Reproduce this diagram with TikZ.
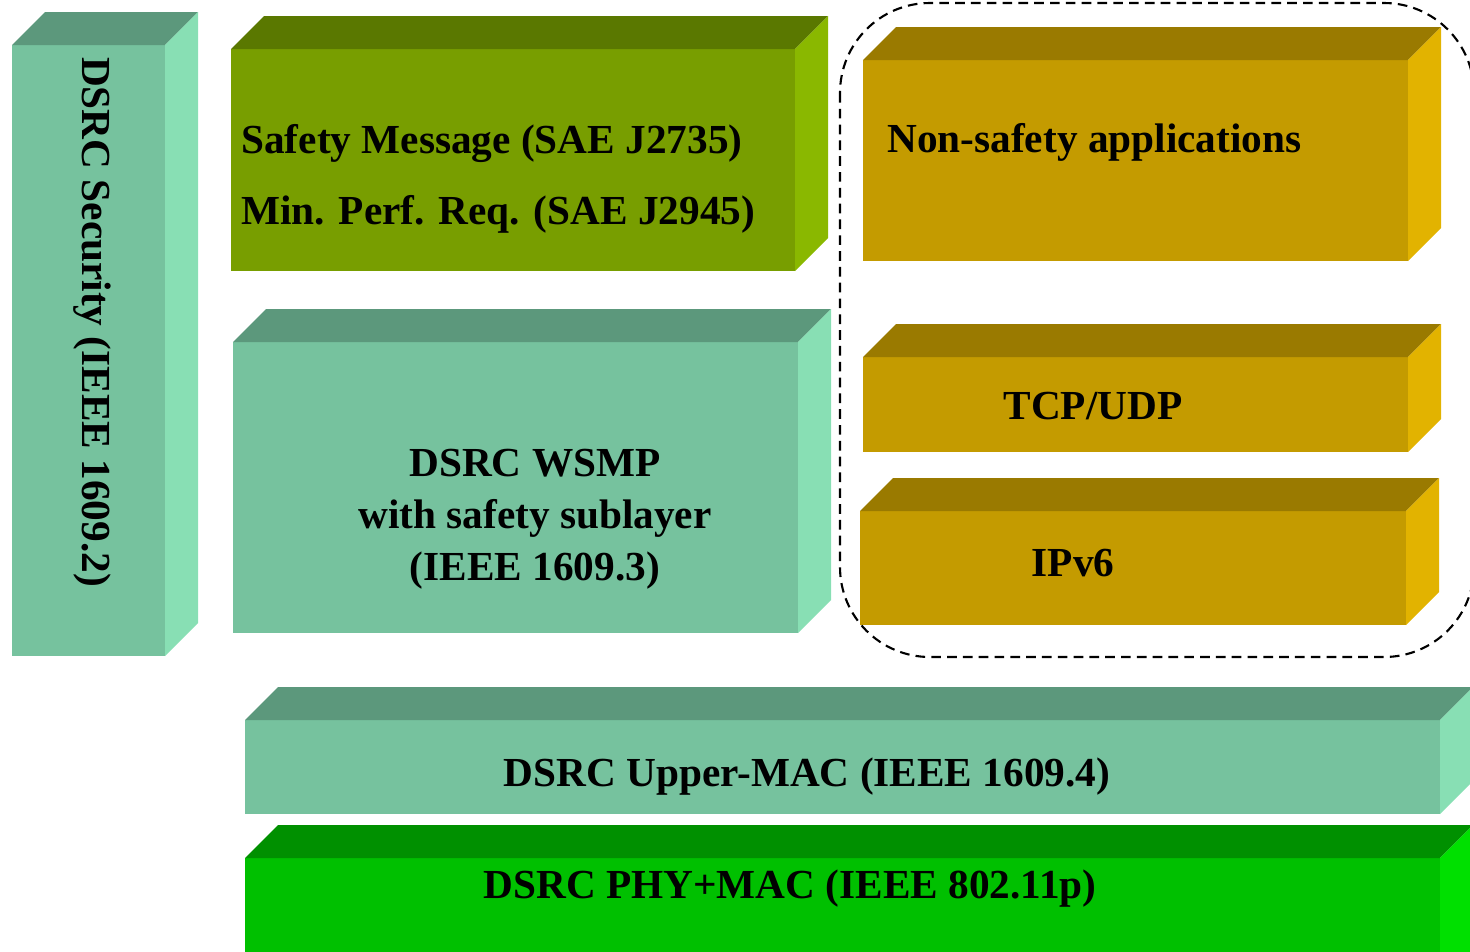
\documentclass[tikz,border=0pt]{standalone}
\usepackage{fontspec}
\setmainfont{Liberation Serif}
\usetikzlibrary{calc}

\definecolor{tealfront}{HTML}{76C29E}
\definecolor{tealtop}{HTML}{5C987C}
\definecolor{tealside}{HTML}{88DFB4}
\definecolor{olivefront}{HTML}{789E00}
\definecolor{olivetop}{HTML}{5A7800}
\definecolor{oliveside}{HTML}{8AB800}
\definecolor{goldfront}{HTML}{C49B00}
\definecolor{goldtop}{HTML}{9A7A00}
\definecolor{goldside}{HTML}{E2B300}
\definecolor{greenfront}{HTML}{00C000}
\definecolor{greentop}{HTML}{009000}
\definecolor{greenside}{HTML}{00E000}

% top and side faces of a layer block (node name, top colour, side colour)
\newcommand{\slab}[3]{%
  \fill[#2] (#1.north west) -- ++(33,-33) -- ($(#1.north east)+(33,-33)$) -- (#1.north east) -- cycle;
  \fill[#3] (#1.north east) -- ++(33,-33) -- ($(#1.south east)+(33,-33)$) -- (#1.south east) -- cycle;
}

\tikzset{
  layer/.style={anchor=north west, inner sep=0pt, outer sep=0pt, draw=none},
  label/.style={font=\bfseries\fontsize{23.5}{29.5}\selectfont, inner sep=0pt}
}

\begin{document}
\begin{tikzpicture}[x=0.02cm, y=-0.02cm]
\useasboundingbox (0,0) rectangle (1470,951);
\clip (0,0) rectangle (1470,951);

% LEFT COLUMN

% Security block
\node[layer, fill=tealfront, minimum width=153*0.02cm, minimum height=611*0.02cm] (security) at (12,45) {};
\slab{security}{tealtop}{tealside}
\node[label, rotate=-90] (securitytext) at (92,322) {DSRC Security (IEEE 1609.2)};

% MIDDLE COLUMN

% Safety message block
\node[layer, fill=olivefront, minimum width=564*0.02cm, minimum height=222*0.02cm] (safety) at (231,49) {};
\slab{safety}{olivetop}{oliveside}
\node[label, anchor=west] (safetytext) at (241,144) {Safety Message (SAE J2735)};
\node[label, anchor=west] (perftext) at (241,214) {Min. Perf. Req. (SAE J2945)};

% WSMP block
\node[layer, fill=tealfront, minimum width=565*0.02cm, minimum height=291*0.02cm] (wsmp) at (233,342) {};
\slab{wsmp}{tealtop}{tealside}
\node[label, align=center] (wsmptext) at (535,519) {DSRC WSMP\\with safety sublayer\\(IEEE 1609.3)};

% RIGHT COLUMN

% Non-safety block
\node[layer, fill=goldfront, minimum width=545*0.02cm, minimum height=201*0.02cm] (nonsafety) at (863,60) {};
\slab{nonsafety}{goldtop}{goldside}
\node[label, anchor=west] (nonsafetytext) at (887,142) {Non-safety applications};

% TCP/UDP block
\node[layer, fill=goldfront, minimum width=545*0.02cm, minimum height=95*0.02cm] (tcp) at (863,357) {};
\slab{tcp}{goldtop}{goldside}
\node[label] (tcptext) at (1093,406) {TCP/UDP};

% IPv6 block
\node[layer, fill=goldfront, minimum width=546*0.02cm, minimum height=114*0.02cm] (ipv6) at (860,511) {};
\slab{ipv6}{goldtop}{goldside}
\node[label] (ipv6text) at (1073,563) {IPv6};

% Dashed group round the IP stack
\draw[dashed, line width=1.2pt, dash pattern=on 5.5pt off 3.5pt, rounded corners=1.8cm] (840,3) rectangle (1474,657);

% BOTTOM ROWS

% Upper MAC block
\node[layer, fill=tealfront, minimum width=1195*0.02cm, minimum height=94*0.02cm] (uppermac) at (245,720) {};
\slab{uppermac}{tealtop}{tealside}
\node[label] (uppermactext) at (807,777) {DSRC Upper-MAC (IEEE 1609.4)};

% PHY + MAC block
\node[layer, fill=greenfront, minimum width=1195*0.02cm, minimum height=130*0.02cm] (phymac) at (245,858) {};
\slab{phymac}{greentop}{greenside}
\node[label] (phymactext) at (790,889) {DSRC PHY+MAC (IEEE 802.11p)};

\end{tikzpicture}
\end{document}
